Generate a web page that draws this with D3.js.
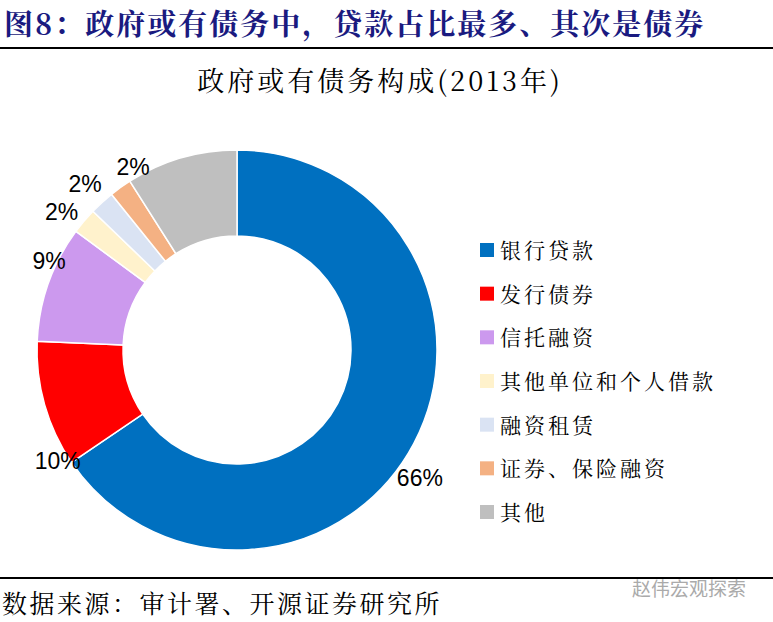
<!DOCTYPE html>
<html><head><meta charset="utf-8">
<script src="https://cdn.jsdelivr.net/npm/d3@7"></script>
<style>body{margin:0;background:#fff}</style>
</head><body>
<svg id="chart" width="773" height="622"></svg>
<script>
const categories = ['银行贷款', '发行债券', '信托融资', '其他单位和个人借款', '融资租赁', '证券、保险融资', '其他'];
const shares = [65.5, 10.2, 9.4, 2.1, 2.0, 1.8, 9.0];
const labels = ['66%', '10%', '9%', '2%', '2%', '2%', ''];
const colors = ['#0070c0', '#ff0000', '#cc99ee', '#fff2cc', '#dae3f3', '#f4b183', '#bfbfbf'];

// label placement tweaks (radius, angle shift in degrees), like the source chart's moved labels
const labelR = [223, 211, 208, 223, 225, 210, 0];
const labelShift = [7, -16, 6, -2, 0, 6, 0];

const svg = d3.select('#chart');
const serif = '"Noto Serif CJK SC","Noto Sans CJK SC",serif';

svg.append('text').attr('x', 4).attr('y', 35)
  .attr('font-family', serif).attr('font-weight', 'bold').attr('font-size', 29)
  .attr('letter-spacing', 2)
  .attr('fill', '#1a1a80').text('图8：政府或有债务中，贷款占比最多、其次是债券');
svg.append('line').attr('x1', 0).attr('x2', 773).attr('y1', 48).attr('y2', 48)
  .attr('stroke', '#000').attr('stroke-width', 2);
svg.append('text').attr('x', 380).attr('y', 91).attr('text-anchor', 'middle')
  .attr('font-family', serif).attr('font-size', 27).attr('letter-spacing', 3).text('政府或有债务构成(2013年)');

const cx = 237, cy = 350, R = 200, r0 = 114;
const pie = d3.pie().sort(null).value(d => d)(shares);
const arc = d3.arc().innerRadius(r0).outerRadius(R);
const g = svg.append('g').attr('transform', `translate(${cx},${cy})`);
g.selectAll('path').data(pie).join('path')
  .attr('d', arc).attr('fill', (d, i) => colors[i]).attr('stroke', '#fff').attr('stroke-width', 1.5);

g.selectAll('text.lab').data(pie).join('text').attr('class', 'lab')
  .each(function(d, i) {
    const a = (d.startAngle + d.endAngle) / 2 + labelShift[i] * Math.PI / 180;
    const x = Math.sin(a) * labelR[i], y = -Math.cos(a) * labelR[i];
    d3.select(this).attr('x', x).attr('y', y + 8).attr('text-anchor', 'middle');
  })
  .attr('font-family', 'Arial, "Liberation Sans", sans-serif').attr('font-size', 23)
  .text((d, i) => labels[i]);

const leg = svg.append('g');
const ly = d3.scalePoint().domain(categories).range([250, 512]);
categories.forEach((c, i) => {
  leg.append('rect').attr('x', 480).attr('y', ly(c) - 7).attr('width', 14).attr('height', 14).attr('fill', colors[i]);
  leg.append('text').attr('x', 500).attr('y', ly(c) + 8)
    .attr('font-family', serif).attr('font-size', 21).attr('letter-spacing', 3).text(c);
});

svg.append('line').attr('x1', 0).attr('x2', 773).attr('y1', 578).attr('y2', 578)
  .attr('stroke', '#000').attr('stroke-width', 2);
svg.append('text').attr('x', 2).attr('y', 613)
  .attr('font-family', serif).attr('font-size', 25).attr('letter-spacing', 2.5).text('数据来源：审计署、开源证券研究所');
svg.append('text').attr('x', 632).attr('y', 596)
  .attr('font-family', '"Noto Sans CJK SC",sans-serif').attr('font-size', 19)
  .attr('fill', '#aaa').text('赵伟宏观探索');
</script>
</body></html>
